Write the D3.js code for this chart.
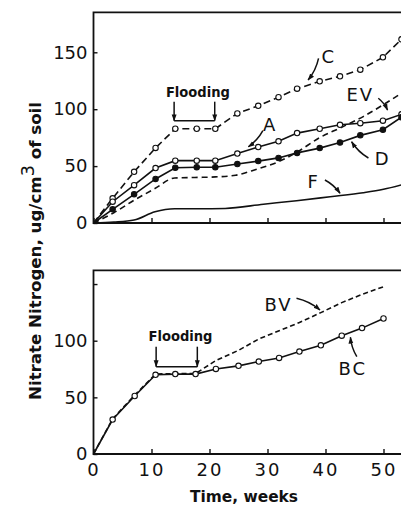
<!DOCTYPE html>
<html><head><meta charset="utf-8">
<script src="https://cdn.jsdelivr.net/npm/d3@7"></script>
<style>
html,body{margin:0;padding:0;background:#fff;}
svg{display:block;}
text{fill:#111;}
</style></head>
<body><svg id="c" width="401" height="505"></svg>
<script>
// ---- data ----
const topWeeks = [0,3.3,7,10.7,14.1,17.8,21,24.8,28.4,31.9,35.1,39,42.5,46,49.9,53.1];
const seriesC = [0,21.7,45,66,82.8,82.8,82.8,96.3,103,110.6,118,124.5,128.9,134.7,145.6,161.4];
const seriesA = [0,18.7,33.2,48.3,54.8,54.8,54.8,61,66.7,71.8,79,82.8,86.3,87.7,89.9,95.5];
const seriesD = [0,12,25.2,38.7,48.6,49,49,51.8,54.4,57.2,61.6,65.8,70.7,77,82,93];
const evWeeks = [0,3.5,7,10.5,14,17.5,21,24.5,28,31.5,35,39,42.5,46.5,50.3,53.1];
const seriesEV = [0,9,20,30,39.5,40,40.5,42,47,53,62,75,83.5,93.5,105,114];
const fWeeks = [0,3.5,7,10.6,14,18,22.7,29.3,35,40.8,46.5,50,53.1];
const seriesF = [0,0.8,2.6,9.9,12.5,12.5,12.8,16.5,19.6,23.1,26.6,29.6,33.5];
const botWeeks = [0,3.3,7.1,10.7,14.1,17.6,21.1,25,28.5,32,35.5,39.2,42.8,46.3,50];
const seriesBC = [0,30.4,51.2,69.9,70.5,70.5,75.1,77.8,81.6,84.8,90.4,95.9,104.4,111.1,119.6];
const seriesBV = [0,31,52,70.5,71,71,82.5,91.5,101.5,108.8,116,124.8,133.6,140.9,147.6];
const xTicks = [0,10,20,30,40,50];
const xTickLabels = ["0","10","20","30","40","50"];
const yTicks = [0,50,100,150];
const yTopLabels = ["0","50","100","150"];
const yBotLabels = ["0","50","100",""];
// annotations: [label, x, y, leader x1,y1,x2,y2]
const topNotes = [
  ["C",40.4,140.3,38.8,144.7,37.0,125.7],
  ["A",30.3,81.1,29.2,81.1,26.7,67.0],
  ["EV",46.0,107.5,49.1,109.6,50.7,99.3],
  ["D",49.7,51.0,47.4,57.1,44.5,71.4],
  ["F",37.8,30.5,39.9,37.8,42.5,26.1]
];
const botNotes = [
  ["BV",31.9,126.4,35.0,137.4,39.05,127.1],
  ["BC",44.7,69.7,45.4,85.9,44.3,103.0]
];
const topFlood = {label:"Flooding", tx:18.0, ty:110.7, x1:13.9, x2:20.9, yTop:106.6, yBot:89.9};
const botFlood = {label:"Flooding", tx:15.0, ty:99.5, x1:10.8, x2:17.9, yTop:94.7, yBot:77.1};

// ---- drawing ----
const svg = d3.select("#c");
svg.append("rect").attr("width",401).attr("height",505).attr("fill","#fff");
const defs = svg.append("defs");
defs.append("marker").attr("id","arr").attr("viewBox","0 0 10 10").attr("refX",9).attr("refY",5)
  .attr("markerWidth",7).attr("markerHeight",7).attr("orient","auto").attr("markerUnits","userSpaceOnUse")
  .append("path").attr("d","M0,1.5L10,5L0,8.5Z").attr("fill","#111");

const x = d3.scaleLinear().domain([0,55]).range([93.5, 93.5+55*5.8]);
const yTop = d3.scaleLinear().domain([0,185]).range([223, 223-185*1.138]);
const yBot = d3.scaleLinear().domain([0,162]).range([454, 454-162*1.133]);

function panel(y, yLabels, showX){
  const g = svg.append("g");
  const [y0,y1] = y.range();
  g.append("path").attr("d",`M${x(55)},${y1}H${x(0)}V${y0}H${x(55)}`)
    .attr("fill","none").attr("stroke","#111").attr("stroke-width",1.8);
  const ya = d3.axisLeft(y).tickValues(yTicks).tickSize(-4).tickPadding(6)
    .tickFormat((d,i)=>yLabels[i]);
  const gy = g.append("g").attr("transform",`translate(${x(0)},0)`).call(ya);
  gy.select(".domain").remove();
  gy.selectAll("line").attr("stroke","#111").attr("stroke-width",1.4);
  gy.selectAll("text").attr("font-family","DejaVu Sans").attr("font-size",18).attr("fill","#111");
  const xa = d3.axisBottom(x).tickValues(xTicks).tickSize(-5).tickPadding(9)
    .tickFormat((d,i)=> showX ? xTickLabels[i] : "");
  const gx = g.append("g").attr("transform",`translate(0,${y0})`).call(xa);
  gx.select(".domain").remove();
  gx.selectAll("line").attr("stroke","#111").attr("stroke-width",1.4);
  gx.selectAll("text").attr("font-family","DejaVu Sans").attr("font-size",18).attr("fill","#111")
    .attr("letter-spacing",2);
  return g;
}
const gTop = panel(yTop, yTopLabels, false);
const gBot = panel(yBot, yBotLabels, true);

function drawLine(g, y, xs, ys, dash, curve){
  const line = d3.line().x(d=>x(d[0])).y(d=>y(d[1])).curve(curve||d3.curveLinear);
  g.append("path").datum(xs.map((v,i)=>[v,ys[i]])).attr("d",line)
    .attr("fill","none").attr("stroke","#111").attr("stroke-width",1.6)
    .attr("stroke-dasharray",dash||null);
}
function drawPts(g, y, xs, ys, fill){
  g.selectAll(null).data(xs.map((v,i)=>[v,ys[i]]).slice(1)).join("circle")
    .attr("cx",d=>x(d[0])).attr("cy",d=>y(d[1])).attr("r",2.7)
    .attr("fill",fill).attr("stroke","#111").attr("stroke-width",1.1);
}
drawLine(gTop, yTop, fWeeks, seriesF, null, d3.curveMonotoneX);
drawLine(gTop, yTop, evWeeks, seriesEV, "6,4", d3.curveMonotoneX);
drawLine(gTop, yTop, topWeeks, seriesD, null);
drawLine(gTop, yTop, topWeeks, seriesA, null);
drawLine(gTop, yTop, topWeeks, seriesC, "7,4");
drawPts(gTop, yTop, topWeeks, seriesC, "#fff");
drawPts(gTop, yTop, topWeeks, seriesA, "#fff");
drawPts(gTop, yTop, topWeeks, seriesD, "#111");
drawLine(gBot, yBot, botWeeks, seriesBV, "5,3");
drawLine(gBot, yBot, botWeeks, seriesBC, null);
drawPts(gBot, yBot, botWeeks, seriesBC, "#fff");

function notes(g, y, list){
  list.forEach(n=>{
    g.append("text").attr("x",x(n[1])).attr("y",y(n[2])).attr("text-anchor","middle")
      .attr("font-family","DejaVu Sans").attr("font-size",18).attr("letter-spacing",n[0].length>1?2:0)
      .text(n[0]);
    const x1=x(n[3]), y1=y(n[4]), x2=x(n[5]), y2=y(n[6]);
    const mx=(x1+x2)/2 + (y2-y1)*0.12, my=(y1+y2)/2 - (x2-x1)*0.12;
    g.append("path").attr("d",`M${x1},${y1}Q${mx},${my} ${x2},${y2}`)
      .attr("fill","none").attr("stroke","#111").attr("stroke-width",1.5).attr("marker-end","url(#arr)");
  });
}
notes(gTop, yTop, topNotes);
notes(gBot, yBot, botNotes);

function flood(g, y, f){
  g.append("text").attr("x",x(f.tx)).attr("y",y(f.ty)).attr("text-anchor","middle")
    .attr("font-family","DejaVu Sans").attr("font-weight","bold").attr("font-size",14)
    .attr("textLength",64).attr("lengthAdjust","spacingAndGlyphs").text(f.label);
  [f.x1,f.x2].forEach(v=>{
    g.append("line").attr("x1",x(v)).attr("x2",x(v)).attr("y1",y(f.yTop)).attr("y2",y(f.yBot))
      .attr("stroke","#111").attr("stroke-width",1.5).attr("marker-end","url(#arr)");
  });
  g.append("line").attr("x1",x(f.x1)).attr("x2",x(f.x2)).attr("y1",y(f.yBot)).attr("y2",y(f.yBot))
    .attr("stroke","#111").attr("stroke-width",1.5);
}
flood(gTop, yTop, topFlood);
flood(gBot, yBot, botFlood);

svg.append("text").attr("x",244).attr("y",502).attr("text-anchor","middle")
  .attr("font-family","DejaVu Sans").attr("font-weight","bold").attr("font-size",16)
  .attr("textLength",108).attr("lengthAdjust","spacingAndGlyphs").text("Time, weeks");
const yt = svg.append("text").attr("transform","translate(41,251) rotate(-90)").attr("text-anchor","middle")
  .attr("font-family","DejaVu Sans").attr("font-weight","bold").attr("font-size",16)
  .attr("textLength",298).attr("lengthAdjust","spacingAndGlyphs");
yt.append("tspan").text("Nitrate Nitrogen, ug/cm");
yt.append("tspan").attr("dy",-7).attr("font-size",17).attr("font-weight","normal").text("3");
yt.append("tspan").attr("dy",7).text(" of soil");
</script></body></html>
